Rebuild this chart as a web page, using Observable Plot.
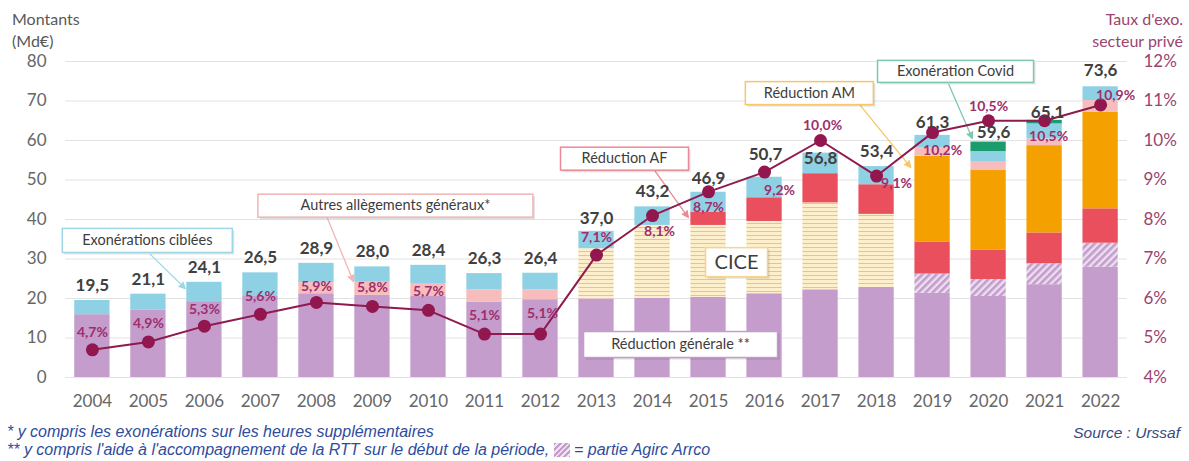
<!DOCTYPE html>
<html><head><meta charset="utf-8">
<script src="https://cdn.jsdelivr.net/npm/d3@7"></script>
<script src="https://cdn.jsdelivr.net/npm/@observablehq/plot@0.6"></script>
<style>
body{margin:0;background:#fff;}
#wrap{position:relative;width:1189px;height:461px;overflow:hidden;font-family:Lato,sans-serif;}
#wrap svg{position:absolute;left:0;top:0;}
.t{position:absolute;font-size:16px;line-height:22px;white-space:nowrap;}
.foot{position:absolute;font-family:"Liberation Sans",Arial,sans-serif;font-style:italic;font-size:16px;color:#2f4c9c;white-space:nowrap;line-height:18px;}
.ico{display:inline-block;width:16px;height:14px;vertical-align:-2px;background:repeating-linear-gradient(135deg,#c49dcc 0 2px,#efe3f2 2px 4px);}
</style></head><body><div id="wrap">
<div class="t" style="left:12px;top:8px;color:#595959">Montants<br>(Md€)</div>
<div class="t" style="right:6px;top:8px;color:#9a4470;text-align:right">Taux d'exo.<br>secteur privé</div>
<div class="foot" style="left:7px;top:423px">* y compris les exonérations sur les heures supplémentaires</div>
<div class="foot" style="left:7px;top:441px">** y compris l'aide à l'accompagnement de la RTT sur le début de la période, <span class="ico"></span> = partie Agirc Arrco</div>
<div class="foot" style="right:9px;top:424px;font-size:15.5px;color:#3a4a82">Source : Urssaf</div>
</div>
<script>
// ---- Data (Md€) ----
const years = [2004,2005,2006,2007,2008,2009,2010,2011,2012,2013,2014,2015,2016,2017,2018,2019,2020,2021,2022];
const reductionGenerale = [15.9,17.0,19.2,20.5,21.2,20.8,20.5,19.1,19.7,19.9,20.0,20.3,21.2,22.2,22.8,21.3,20.5,23.5,27.9];
const partAgircArrco    = [0,0,0,0,0,0,0,0,0,0,0,0,0,0,0,4.9,4.3,5.3,6.1];
const cice              = [0,0,0,0,0,0,0,0,0,12.7,18.5,18.2,18.3,22.0,18.5,0,0,0,0];
const reductionAF       = [0,0,0,0,0,0,0,0,0,0,0,3.3,6.0,7.4,7.5,8.1,7.4,7.8,8.7];
const reductionAM       = [0,0,0,0,0,0,0,0,0,0,0,0,0,0,0,21.7,20.2,22.1,24.5];
const autresAllegements = [0,0,0,0,2.8,3.3,3.3,3.1,2.5,0,0,0,0,0,0,2.1,2.1,1.7,2.9];
const exoCiblees        = [3.6,4.1,4.9,6.0,4.9,3.9,4.6,4.1,4.2,4.4,4.7,5.1,5.2,5.2,4.6,3.2,2.7,3.8,3.5];
const exoCovid          = [0,0,0,0,0,0,0,0,0,0,0,0,0,0,0,0,2.4,0.9,0];
const totals            = [19.5,21.1,24.1,26.5,28.9,28.0,28.4,26.3,26.4,37.0,43.2,46.9,50.7,56.8,53.4,61.3,59.6,65.1,73.6];
// Taux d'exonération secteur privé (%)
const taux              = [4.7,4.9,5.3,5.6,5.9,5.8,5.7,5.1,5.1,7.1,8.1,8.7,9.2,10.0,9.1,10.2,10.5,10.5,10.9];
const yTicks = [0,10,20,30,40,50,60,70,80];
const rateTicks = ["4%","5%","6%","7%","8%","9%","10%","11%","12%"];

// ---- Styling / layout ----
const seriesDefs = [
  {name:"Réduction générale", values:reductionGenerale, fill:"#c49dcc"},
  {name:"Part Agirc Arrco", values:partAgircArrco, fill:"url(#hatchAgirc)"},
  {name:"CICE", values:cice, fill:"url(#hatchCice)"},
  {name:"Réduction AF", values:reductionAF, fill:"#e94f5d"},
  {name:"Réduction AM", values:reductionAM, fill:"#f4a100"},
  {name:"Autres allègements généraux", values:autresAllegements, fill:"#f7bdbd"},
  {name:"Exonérations ciblées", values:exoCiblees, fill:"#8fd1e4"},
  {name:"Exonération Covid", values:exoCovid, fill:"#1b9c6c"}
];
const segments = [];
years.forEach((yr,i)=>{
  let acc = 0;
  seriesDefs.forEach(s=>{
    const v = s.values[i];
    if (v > 0) { segments.push({year:yr, serie:s.name, y1:acc, y2:acc+v}); acc += v; }
  });
});
const fmt = v => v.toFixed(1).replace(".", ",");
const totalData = years.map((yr,i)=>({year:yr, total:totals[i], label:fmt(totals[i])}));
const rateData = years.map((yr,i)=>({year:yr, taux:taux[i], v:(taux[i]-4)*10, label:fmt(taux[i])+"%"}));

const totalOffsets = {2013:[0,-13],2015:[0,-14],2016:[1,-23],2017:[0,5],2019:[0,-13],2020:[5,-10],2021:[3,-8],2022:[0,-16]};
const rateOffsets = {2004:[0,-17],2005:[0,-18],2006:[0,-17],2007:[0,-18],2008:[0,-16],2009:[0,-19],2010:[0,-19],2011:[0,-19],2012:[2,-21],
  2013:[0,-18],2014:[7,16],2015:[0,16],2016:[15,18],2017:[2,-15],2018:[20,7],2019:[10,18],2020:[0,-14],2021:[4,16],2022:[15,-9]};

const annotations = [
  {label:"Exonérations ciblées", x:2004.98, y:34.7, w:170, h:24, color:"#9fd6e6", arrow:[2005.04,31.1,2005.66,22.5], fs:14.5},
  {label:"Autres allègements généraux*", x:2009.41, y:43.5, w:275, h:23, color:"#f2b5b5", arrow:[2008.20,40.2,2008.66,24.3], fs:14.5},
  {label:"Réduction AF", x:2013.50, y:55.4, w:128, h:23, color:"#e98a96", arrow:[2014.05,52.2,2014.64,40.5], fs:14.5},
  {label:"Réduction AM", x:2016.80, y:72.0, w:128, h:23, color:"#f6c66a", arrow:[2017.71,68.9,2018.61,53.2], fs:14.5},
  {label:"Exonération Covid", x:2019.41, y:77.5, w:156, h:22, color:"#7cc8b0", arrow:[2019.29,74.2,2019.71,60.5], fs:14.5},
  {label:"CICE", x:2015.50, y:29.2, w:62, h:29, color:"#f5d48f", arrow:null, fs:20},
  {label:"Réduction générale **", x:2014.50, y:8.35, w:194, h:26, color:"#c49dcc", arrow:null, fs:14.5}
];

const half = 0.315;
const marks = [
  Plot.gridY(yTicks, {stroke:"#e2e2e2", strokeOpacity:1}),
  ...seriesDefs.map(s => Plot.rect(segments.filter(d=>d.serie===s.name), {
    x1:d=>d.year-half, x2:d=>d.year+half, y1:"y1", y2:"y2", fill:s.fill})),
  ...annotations.filter(a=>a.arrow).map(a => Plot.arrow([a], {
    x1:d=>d.arrow[0], y1:d=>d.arrow[1], x2:d=>d.arrow[2], y2:d=>d.arrow[3],
    stroke:a.color, fill:a.color, strokeWidth:1.3, headLength:8, headAngle:50, bend:0})),
  Plot.line(rateData, {x:"year", y:"v", stroke:"#8e1a4e", strokeWidth:2}),
  Plot.dot(rateData, {x:"year", y:"v", r:6.5, fill:"#93174f", stroke:"none"}),
  Plot.text(totalData, {x:"year", y:"total", text:"label", fontWeight:"bold", fontSize:17, fill:"#404040"}),
  Plot.text(rateData, {x:"year", y:"v", text:"label", fontWeight:"bold", fontSize:14, fill:"#9e2f6c"}),
  ...annotations.map(a => Plot.text([a], {x:"x", y:"y", text:"label", fontSize:a.fs, fill:"#3d3d3d"})),
  Plot.axisX({ticks:years, tickFormat:d=>String(d), tickSize:0, tickPadding:17, label:null, fontSize:17, fill:"#666"}),
  Plot.axisY({ticks:yTicks, tickSize:0, tickPadding:19, label:null, fontSize:17, fill:"#666"}),
  Plot.axisY({anchor:"right", ticks:yTicks, tickFormat:d=>rateTicks[yTicks.indexOf(d)], tickSize:0, tickPadding:16, label:null, fontSize:17, fill:"#9a4470", textAnchor:"start"})
];

const chart = Plot.plot({
  width:1189, height:420,
  marginLeft:65, marginRight:62, marginTop:61, marginBottom:43,
  x:{type:"linear", domain:[2003.52, 2022.48], axis:null},
  y:{domain:[0,80], axis:null},
  style:{fontFamily:"Lato, sans-serif", background:"transparent", overflow:"visible"},
  marks
});
document.getElementById("wrap").prepend(chart);

const xs = chart.scale("x"), ys = chart.scale("y");
const svgNS = "http://www.w3.org/2000/svg";
function mk(tag, attrs, parent){const e=document.createElementNS(svgNS,tag);for(const k in attrs)e.setAttribute(k,attrs[k]);if(parent)parent.appendChild(e);return e;}
const defs = document.createElementNS(svgNS, "defs");
const p1 = mk("pattern",{id:"hatchAgirc",patternUnits:"userSpaceOnUse",width:5,height:5,patternTransform:"rotate(45)"},defs);
mk("rect",{width:5,height:5,fill:"#ecdff0"},p1); mk("rect",{width:2.6,height:5,fill:"#c49dcc"},p1);
const p2 = mk("pattern",{id:"hatchCice",patternUnits:"userSpaceOnUse",width:6,height:4},defs);
mk("rect",{width:6,height:4,fill:"#fdefcb"},p2); mk("rect",{y:3,width:6,height:1,fill:"#f4c36f"},p2);
chart.insertBefore(defs, chart.firstChild);

// annotation boxes behind annotation texts
const labelMap = new Map(annotations.map(a=>[a.label,a]));
chart.querySelectorAll("text").forEach(t=>{
  const s = t.textContent;
  if (labelMap.has(s)) {
    const a = labelMap.get(s);
    const cx = xs.apply(a.x), cy = ys.apply(a.y);
    const sh = mk("rect",{x:cx-a.w/2+2,y:cy-a.h/2+2,width:a.w,height:a.h,fill:"#000","fill-opacity":0.12});
    const r = mk("rect",{x:cx-a.w/2,y:cy-a.h/2,width:a.w,height:a.h,fill:"#fff",stroke:a.color,"stroke-width":1.5});
    t.parentNode.insertBefore(sh,t); t.parentNode.insertBefore(r,t);
  }
});
// label placement offsets
const gTexts = [...chart.querySelectorAll("g[aria-label='text']")];
const totalG = gTexts[0], rateG = gTexts[1];
[...totalG.querySelectorAll("text")].forEach((t,i)=>{
  const o = totalOffsets[years[i]] || [0,-15];
  t.setAttribute("transform", (t.getAttribute("transform")||"") + ` translate(${o[0]},${o[1]})`);
});
[...rateG.querySelectorAll("text")].forEach((t,i)=>{
  const o = rateOffsets[years[i]] || [0,-17];
  t.setAttribute("transform", (t.getAttribute("transform")||"") + ` translate(${o[0]},${o[1]})`);
});
</script></body></html>
